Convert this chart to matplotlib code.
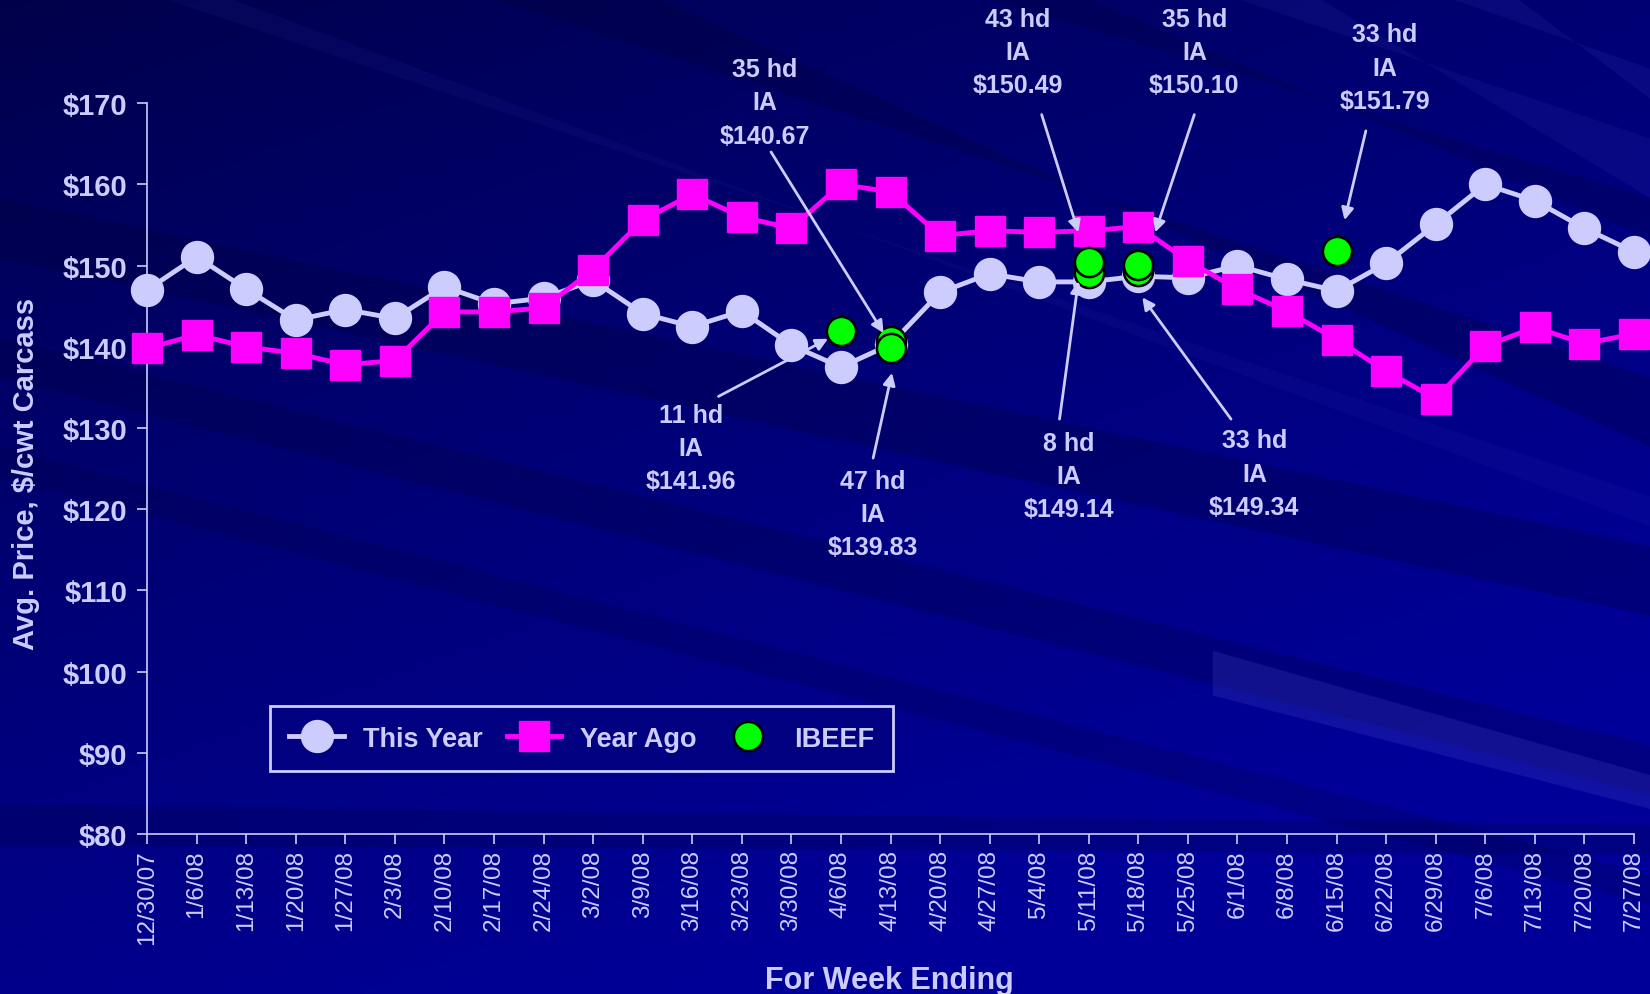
"""Weekly average fed cattle price: this year vs year ago, with IBEEF sales"""

import numpy as np
import matplotlib
matplotlib.use('Agg')
import matplotlib.pyplot as plt
from matplotlib.patches import Polygon

plt.rcParams['font.family'] = ['Liberation Sans', 'DejaVu Sans']

weeks = ['12/30/07', '1/6/08', '1/13/08', '1/20/08', '1/27/08', '2/3/08',
         '2/10/08', '2/17/08', '2/24/08', '3/2/08', '3/9/08', '3/16/08',
         '3/23/08', '3/30/08', '4/6/08', '4/13/08', '4/20/08', '4/27/08',
         '5/4/08', '5/11/08', '5/18/08', '5/25/08', '6/1/08', '6/8/08',
         '6/15/08', '6/22/08', '6/29/08', '7/6/08', '7/13/08', '7/20/08',
         '7/27/08']

this_year = [147.0, 151.1, 147.1, 143.3, 144.6, 143.5, 147.4, 145.3, 146.0,
             148.2, 144.1, 142.5, 144.4, 140.2, 137.5, 140.3, 146.7, 149.0,
             148.0, 148.0, 148.7, 148.5, 150.0, 148.3, 146.9, 150.3, 155.1,
             160.0, 158.0, 154.6, 151.7]

year_ago = [139.8, 141.5, 140.0, 139.2, 137.8, 138.3, 144.3, 144.3, 144.8,
            149.5, 155.6, 158.8, 156.0, 154.6, 160.0, 159.1, 153.7, 154.3,
            154.1, 154.3, 154.8, 150.6, 147.1, 144.4, 140.9, 137.0, 133.6,
            140.1, 142.4, 140.4, 141.6]

ibeef_weeks = ['4/6/08', '4/13/08', '4/13/08', '5/11/08', '5/11/08',
               '5/18/08', '5/18/08', '6/15/08']
ibeef_price = [141.96, 140.67, 139.83, 149.14, 150.49, 149.34, 150.10, 151.79]
ibeef_head = [11, 35, 47, 8, 43, 33, 35, 33]
ibeef_state = ['IA'] * 8

# label centre, arrow start, arrow tip (data coords) for each IBEEF note
note_text = [(10.98, 127.5), (12.46, 170.1), (14.65, 119.4), (18.60, 124.1),
             (17.56, 176.3), (22.34, 124.4), (21.13, 176.3), (24.97, 174.4)]
note_start = [(11.53, 133.9), (12.59, 164.0), (14.65, 126.3), (18.41, 131.1),
              (18.05, 168.6), (21.87, 131.1), (21.13, 168.6), (24.59, 166.6)]
note_tip = [(13.74, 141.0), (14.86, 141.7), (15.03, 136.8), (18.79, 148.1),
            (18.79, 154.1), (20.08, 146.1), (20.34, 154.1), (24.16, 155.6)]

TXT = '#CCCCFF'


def band(ax, left, right, color, alpha):
    """Diagonal streak between two edge intervals (figure fraction)"""
    pts = [left[0], left[1], right[1], right[0]]
    ax.add_patch(Polygon(pts, closed=True, color=color, alpha=alpha, lw=0))


def draw_background(fig):
    """Dark blue slide background with diagonal streaks"""
    bg = fig.add_axes([0, 0, 1, 1], zorder=-10)
    v, u = np.mgrid[0:1:200j, 0:1:330j]   # v = 0 at top
    t = np.clip(0.75 * v + 0.45 * u + 0.05, 0, 1) ** 0.8
    img = np.zeros(v.shape + (3,))
    img[..., 2] = (0x42 + 0x56 * t) / 255.
    bg.imshow(img, extent=[0, 1, 0, 1], aspect='auto', origin='upper')
    bg.set_xlim(0, 1)
    bg.set_ylim(0, 1)
    bg.axis('off')

    dark = '#000030'
    band(bg, [(0, 0.80), (0, 0.74)], [(1, 0.45), (1, 0.38)], dark, 0.25)
    band(bg, [(0, 0.66), (0, 0.62)], [(1, 0.25), (1, 0.20)], dark, 0.22)
    band(bg, [(0, 0.55), (0, 0.52)], [(1, 0.12), (1, 0.09)], dark, 0.18)
    band(bg, [(0.30, 1.0), (0.40, 1.0)], [(1, 0.62), (1, 0.55)], dark, 0.25)
    band(bg, [(0.60, 1.0), (0.66, 1.0)], [(1, 0.80), (1, 0.76)], dark, 0.22)
    band(bg, [(0, 0.19), (0, 0.15)], [(1, 0.17), (1, 0.14)], dark, 0.20)
    light = '#5050D0'
    band(bg, [(0.75, 1.0), (0.80, 1.0)], [(1, 0.86), (1, 0.80)], light, 0.10)
    band(bg, [(0.88, 1.0), (0.92, 1.0)], [(1, 0.93), (1, 0.90)], light, 0.12)
    band(bg, [(0.10, 1.0), (0.14, 1.0)], [(1, 0.50), (1, 0.47)], light, 0.07)
    band(bg, [(0.735, 0.345), (0.735, 0.30)], [(1, 0.22), (1, 0.186)],
         '#6060E0', 0.18)


def plot_price_chart():
    """Plots the price comparison figure"""
    fig = plt.figure(figsize=(16.5, 9.95), dpi=100)
    fig.patch.set_facecolor('#000070')
    draw_background(fig)

    ax = fig.add_axes([0.0891, 0.1608, 0.9012, 0.7344])
    ax.patch.set_alpha(0)

    x = np.arange(len(weeks))
    ax.plot(x, this_year, color='#CCCCFF', lw=3.5, marker='o', ms=23,
            mec='#CCCCFF', label='This Year', clip_on=False, zorder=3)
    ax.plot(x, year_ago, color='#FF00FF', lw=3.5, marker='s', ms=22,
            mec='#FF00FF', label='Year Ago', clip_on=False, zorder=4)
    for i, w in enumerate(ibeef_weeks):
        ax.plot(weeks.index(w), ibeef_price[i], ls='none', marker='o', ms=21,
                mfc='#00FF00', mec='black', mew=1.8, zorder=6 + 0.01 * i,
                label='IBEEF' if i == 0 else None)

    for i in range(len(ibeef_price)):
        label = '%d hd\n%s\n$%.2f' % (ibeef_head[i], ibeef_state[i],
                                       ibeef_price[i])
        ax.text(*note_text[i], label, ha='center', va='center', color=TXT,
                fontsize=18, fontweight='bold', linespacing=1.48,
                clip_on=False, zorder=7)
        ax.annotate('', xy=note_tip[i], xytext=note_start[i],
                    annotation_clip=False, zorder=7,
                    arrowprops=dict(arrowstyle='-|>', color=TXT, lw=2,
                                    mutation_scale=18, shrinkA=0, shrinkB=0))

    ax.set_xlim(0, len(weeks) - 1)
    ax.set_ylim(80, 170)
    ax.set_yticks(range(80, 171, 10))
    ax.set_yticklabels(['$%d' % v for v in range(80, 171, 10)],
                       fontsize=21, fontweight='bold', color=TXT)
    ax.set_xticks(x)
    ax.set_xticklabels(weeks, rotation=90, fontsize=17.5, color=TXT)
    ax.tick_params(axis='both', colors=TXT, length=7, width=1.2,
                   direction='out')
    ax.tick_params(axis='y', pad=7)
    ax.tick_params(axis='x', pad=4)
    for side in ['top', 'right']:
        ax.spines[side].set_visible(False)
    for side in ['left', 'bottom']:
        ax.spines[side].set_color(TXT)
        ax.spines[side].set_linewidth(1.2)

    fig.text(0.0158, 0.524, 'Avg. Price, $/cwt Carcass', rotation=90,
             ha='center', va='center', fontsize=21, fontweight='bold',
             color=TXT)
    fig.text(0.539, 0.014, 'For Week Ending', ha='center', va='center',
             fontsize=22, fontweight='bold', color=TXT)

    leg = ax.legend(ncol=3, loc='lower left', bbox_to_anchor=(0.0827, 0.0862),
                    borderaxespad=0, frameon=True, fancybox=False,
                    facecolor='#000080', edgecolor=TXT, framealpha=1,
                    handlelength=2.0, columnspacing=0.9, borderpad=0.72,
                    handletextpad=0.7,
                    prop={'size': 19.5, 'weight': 'bold'})
    leg.get_frame().set_linewidth(2)
    for t in leg.get_texts():
        t.set_color(TXT)

    fig.savefig('out.png', dpi=100, facecolor=fig.get_facecolor())


if __name__ == "__main__":
    plot_price_chart()
